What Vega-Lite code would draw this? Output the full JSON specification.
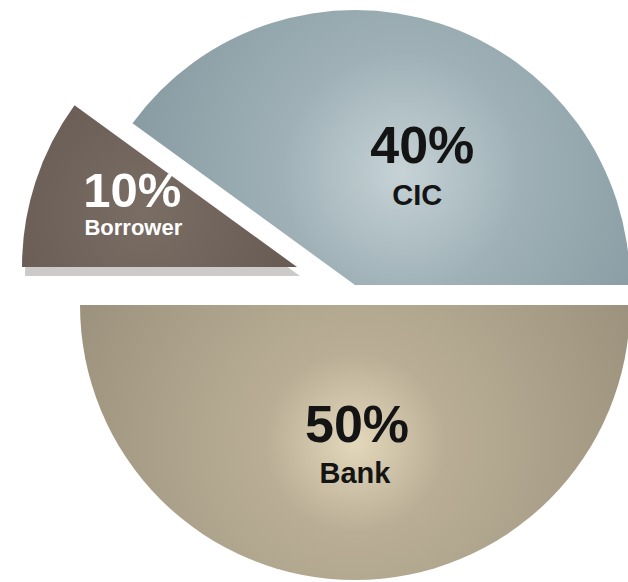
{
  "$schema": "https://vega.github.io/schema/vega-lite/v6.json",
  "width": 628,
  "height": 582,
  "autosize": {"type": "none"},
  "padding": 0,
  "background": "white",
  "data": {
    "values": [
      {"label": "Bank", "share": 0.5, "order": 1},
      {"label": "Borrower", "share": 0.1, "order": 2},
      {"label": "CIC", "share": 0.4, "order": 3}
    ]
  },
  "encoding": {
    "theta": {"field": "share", "type": "quantitative", "stack": true, "scale": {"domain": [0, 1], "range": [1.5707963, 7.8539816]}},
    "order": {"field": "order", "type": "quantitative"}
  },
  "layer": [
    {
      "mark": {"type": "arc", "radius": 275, "xOffset": -14, "yOffset": -15, "color": "#6f6a68"},
      "encoding": {"opacity": {"condition": {"test": "datum.label === 'Borrower'", "value": 0.35}, "value": 0}}
    },
    {
      "mark": {"type": "arc", "radius": 275, "xOffset": 41, "yOffset": 14,
        "color": {"gradient": "radial", "x1": 0.5, "y1": 0.5, "r1": 0, "x2": 0.5, "y2": 0.5, "r2": 0.55,
          "stops": [{"offset": 0, "color": "#e3d8bb"}, {"offset": 0.3, "color": "#b9ae95"}, {"offset": 1, "color": "#9d927d"}]}},
      "encoding": {"opacity": {"condition": {"test": "datum.label === 'Bank'", "value": 1}, "value": 0}}
    },
    {
      "mark": {"type": "arc", "radius": 275, "xOffset": 41, "yOffset": -6,
        "color": {"gradient": "radial", "x1": 0.54, "y1": 0.55, "r1": 0, "x2": 0.54, "y2": 0.55, "r2": 0.6,
          "stops": [{"offset": 0, "color": "#c6d2d6"}, {"offset": 0.4, "color": "#9fb1b7"}, {"offset": 1, "color": "#84989f"}]}},
      "encoding": {"opacity": {"condition": {"test": "datum.label === 'CIC'", "value": 1}, "value": 0}}
    },
    {
      "mark": {"type": "arc", "radius": 275, "xOffset": -17, "yOffset": -24,
        "color": {"gradient": "radial", "x1": 0.45, "y1": 0.6, "r1": 0, "x2": 0.45, "y2": 0.6, "r2": 0.7,
          "stops": [{"offset": 0, "color": "#7a6d64"}, {"offset": 1, "color": "#635750"}]}},
      "encoding": {"opacity": {"condition": {"test": "datum.label === 'Borrower'", "value": 1}, "value": 0}}
    },
    {
      "mark": {"type": "text", "radius": 120, "xOffset": 41, "yOffset": 14, "dx": 2, "dy": 17, "font": "Liberation Sans", "fontWeight": "bold", "fontSize": 52, "align": "center", "baseline": "alphabetic", "color": "#141414"},
      "encoding": {"text": {"field": "share", "format": ".0%"}, "opacity": {"condition": {"test": "datum.label === 'Bank'", "value": 1}, "value": 0}}
    },
    {
      "mark": {"type": "text", "radius": 120, "xOffset": 41, "yOffset": 14, "dx": 0, "dy": 58, "font": "Liberation Sans", "fontWeight": "bold", "fontSize": 29, "align": "center", "baseline": "alphabetic", "color": "#141414"},
      "encoding": {"text": {"field": "label"}, "opacity": {"condition": {"test": "datum.label === 'Bank'", "value": 1}, "value": 0}}
    },
    {
      "mark": {"type": "text", "radius": 140, "xOffset": 41, "yOffset": -6, "dx": 24, "dy": 11, "font": "Liberation Sans", "fontWeight": "bold", "fontSize": 52, "align": "center", "baseline": "alphabetic", "color": "#141414"},
      "encoding": {"text": {"field": "share", "format": ".0%"}, "opacity": {"condition": {"test": "datum.label === 'CIC'", "value": 1}, "value": 0}}
    },
    {
      "mark": {"type": "text", "radius": 140, "xOffset": 41, "yOffset": -6, "dx": 19, "dy": 53, "font": "Liberation Sans", "fontWeight": "bold", "fontSize": 29, "align": "center", "baseline": "alphabetic", "color": "#141414"},
      "encoding": {"text": {"field": "label"}, "opacity": {"condition": {"test": "datum.label === 'CIC'", "value": 1}, "value": 0}}
    },
    {
      "mark": {"type": "text", "radius": 170, "xOffset": -17, "yOffset": -24, "dx": -3, "dy": -7, "font": "Liberation Sans", "fontWeight": "bold", "fontSize": 49, "align": "center", "baseline": "alphabetic", "color": "#ffffff"},
      "encoding": {"text": {"field": "share", "format": ".0%"}, "opacity": {"condition": {"test": "datum.label === 'Borrower'", "value": 1}, "value": 0}}
    },
    {
      "mark": {"type": "text", "radius": 170, "xOffset": -17, "yOffset": -24, "dx": -2, "dy": 21, "font": "Liberation Sans", "fontWeight": "bold", "fontSize": 22, "align": "center", "baseline": "alphabetic", "color": "#ffffff"},
      "encoding": {"text": {"field": "label"}, "opacity": {"condition": {"test": "datum.label === 'Borrower'", "value": 1}, "value": 0}}
    }
  ]
}
